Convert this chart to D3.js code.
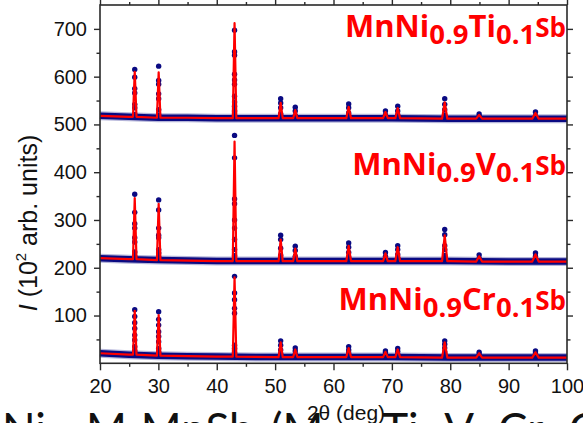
<!DOCTYPE html>
<html><head><meta charset="utf-8">
<script src="https://cdn.jsdelivr.net/npm/d3@7"></script>
<style>body{margin:0;background:#fff;} svg{display:block}</style>
</head><body>
<script>
// ---------- data ----------
const peakPos  = [25.95, 30.05, 43.05, 50.95, 53.45, 62.6, 68.9, 71.0, 79.05, 84.95, 94.6];
const peakFoot = [0.3, 0.3, 0.3, 0.35, 0.35, 0.4, 0.4, 0.4, 0.45, 0.5, 0.55];
const bgPos    = [20, 25, 30, 35, 40, 50, 60, 70, 80, 90, 100];

const tiBg = [518, 516, 514, 514, 513, 513, 513, 513, 512, 512, 512];
const vBg  = [220, 218, 216, 215, 214, 214, 214, 214, 214, 213, 213];
const crBg = [21, 18, 16, 15, 14, 13, 13, 13, 12, 12, 12];

const tiPeakBase = [516, 514, 513, 513, 513, 513, 513, 513, 512, 512, 512];
const vPeakBase  = [218, 216, 214, 214, 214, 214, 214, 214, 214, 213, 213];
const crPeakBase = [18, 16, 14, 13, 13, 13, 13, 13, 12, 12, 12];

const tiCalcTop = [610, 609, 712, 545, 530, 537, 526, 534, 546, 520, 524];
const vCalcTop  = [346, 334, 464, 259, 240, 246, 230, 243, 268, 224, 228];
const crCalcTop = [110, 101, 180, 44, 29, 32, 24, 29, 44, 21, 23];

const tiObs = [
  [615, 599, 575, 566, 542, 535, 521],
  [622, 592, 584, 564, 554, 531, 520],
  [697, 652, 645, 605, 593, 584, 559, 547, 538, 528, 519],
  [554, 545, 535, 522],
  [536, 528, 519],
  [543, 535, 524],
  [528, 520],
  [538, 528, 520],
  [554, 542, 531, 520],
  [522, 517],
  [526, 518]
];
const vObs = [
  [354, 316, 292, 283, 263, 254, 233, 224],
  [342, 321, 283, 268, 263, 238, 231, 222],
  [477, 430, 344, 334, 300, 283, 259, 238, 225],
  [268, 259, 241, 226],
  [245, 236, 224],
  [252, 243, 232, 222],
  [232, 224, 219],
  [246, 238, 228, 220],
  [280, 269, 246, 238, 226, 219],
  [227, 220],
  [231, 224, 218]
];
const crObs = [
  [112, 98, 85, 73, 59, 49, 35, 26],
  [108, 92, 80, 66, 56, 45, 31, 23],
  [182, 147, 133, 115, 105, 38, 31, 22],
  [47, 38, 28, 20],
  [32, 26, 19],
  [35, 28, 22, 18],
  [26, 22, 17],
  [31, 25, 19],
  [47, 40, 32, 24, 18],
  [23, 18],
  [26, 21, 17]
];

const yTicks = [100, 200, 300, 400, 500, 600, 700];
const yMinor = [50, 150, 250, 350, 450, 550, 650];
const xTicks = [20, 30, 40, 50, 60, 70, 80, 90, 100];
const xMinor = [25, 35, 45, 55, 65, 75, 85, 95];

const samples = [
  {bg: tiBg, base: tiPeakBase, calc: tiCalcTop, obs: tiObs, label: ["MnNi", "0.9", "Ti", "0.1", "Sb"], ly: 37},
  {bg: vBg,  base: vPeakBase,  calc: vCalcTop,  obs: vObs,  label: ["MnNi", "0.9", "V", "0.1", "Sb"],  ly: 175},
  {bg: crBg, base: crPeakBase, calc: crCalcTop, obs: crObs, label: ["MnNi", "0.9", "Cr", "0.1", "Sb"], ly: 310}
];

// ---------- layout ----------
const W = 583, H = 423;
const L = 100, R = 567, T = 5, B = 363.3;
const x = d3.scaleLinear().domain([20, 100]).range([L, R]);
const y = d3.scaleLinear().domain([0, 750]).range([B, T]);

const svg = d3.select("body").append("svg").attr("width", W).attr("height", H);
const NAVY = "#0a0a82", RED = "#ff0000";
const AX = "#2a2a2a";

const plot = svg.append("g");

samples.forEach(s => {
  const bandPts = bgPos.map((p, i) => [p, s.bg[i]]);
  const line = d3.line().x(d => x(d[0])).y(d => y(d[1]));
  plot.append("path").attr("d", line(bandPts)).attr("fill", "none")
    .attr("stroke", NAVY).attr("stroke-opacity", 0.3).attr("stroke-width", 9).attr("stroke-linejoin", "round");
  plot.append("path").attr("d", line(bandPts)).attr("fill", "none")
    .attr("stroke", NAVY).attr("stroke-width", 6.5).attr("stroke-linejoin", "round");
  s.obs.forEach((arr, i) => {
    plot.selectAll(null).data(arr).enter().append("circle")
      .attr("cx", x(peakPos[i])).attr("cy", d => y(d)).attr("r", 2.7).attr("fill", NAVY);
  });
  let pts = bgPos.map((p, i) => [p, s.bg[i]])
    .filter(d => !peakPos.some((pp, k) => Math.abs(d[0] - pp) < peakFoot[k] + 0.05));
  peakPos.forEach((pp, k) => {
    pts.push([pp - peakFoot[k], s.base[k]]);
    pts.push([pp, s.calc[k]]);
    pts.push([pp + peakFoot[k], s.base[k]]);
  });
  pts.sort((a, b) => a[0] - b[0]);
  plot.append("path").attr("d", line(pts)).attr("fill", "none")
    .attr("stroke", RED).attr("stroke-width", 2.2).attr("stroke-linejoin", "round");

  const t = svg.append("text").attr("x", 566).attr("y", s.ly).attr("text-anchor", "end")
    .attr("font-family", "'Open Sans', Lato, sans-serif").attr("font-weight", "bold").attr("fill", RED);
  t.append("tspan").attr("font-size", 31).text(s.label[0]);
  t.append("tspan").attr("font-size", 27.5).attr("dy", 7).text(s.label[1]);
  t.append("tspan").attr("font-size", 31).attr("dy", -7).text(s.label[2]);
  t.append("tspan").attr("font-size", 27.5).attr("dy", 7).text(s.label[3]);
  t.append("tspan").attr("font-size", 26).attr("dy", -7).text(s.label[4]);
});

// ---------- axes ----------
const FONT = "'Liberation Sans', Arial, sans-serif";
function styleAxis(g) {
  g.select(".domain").remove();
  g.selectAll("line").attr("stroke", AX).attr("stroke-width", 1.4);
  g.selectAll("text").attr("font-family", FONT).attr("font-size", 20).attr("fill", "#111");
}
svg.append("g").attr("transform", `translate(${L},0)`)
  .call(d3.axisLeft(y).tickValues(yTicks).tickSize(6).tickPadding(7)).call(styleAxis);
svg.append("g").attr("transform", `translate(${L},0)`)
  .call(d3.axisLeft(y).tickValues(yMinor).tickSize(3.5).tickFormat("")).call(styleAxis);
svg.append("g").attr("transform", `translate(${R},0)`)
  .call(d3.axisRight(y).tickValues(yTicks).tickSize(6).tickFormat("")).call(styleAxis);
svg.append("g").attr("transform", `translate(${R},0)`)
  .call(d3.axisRight(y).tickValues(yMinor).tickSize(3.5).tickFormat("")).call(styleAxis);
svg.append("g").attr("transform", `translate(0,${B})`)
  .call(d3.axisBottom(x).tickValues(xTicks).tickSize(7).tickPadding(8.5)).call(styleAxis);
svg.append("g").attr("transform", `translate(0,${B})`)
  .call(d3.axisBottom(x).tickValues(xMinor).tickSize(3.5).tickFormat("")).call(styleAxis);
svg.append("g").attr("transform", `translate(0,${T})`)
  .call(d3.axisTop(x).tickValues(xTicks).tickSize(5).tickFormat("")).call(styleAxis);
svg.append("g").attr("transform", `translate(0,${T})`)
  .call(d3.axisTop(x).tickValues(xMinor).tickSize(3).tickFormat("")).call(styleAxis);

svg.append("rect").attr("x", L).attr("y", T).attr("width", R - L).attr("height", B - T)
  .attr("fill", "none").attr("stroke", AX).attr("stroke-width", 1.6);

// y label
const yl = svg.append("text").attr("transform", "translate(37,223) rotate(-90)")
  .attr("text-anchor", "middle").attr("font-family", FONT).attr("font-size", 25).attr("fill", "#111");
yl.append("tspan").attr("font-style", "italic").text("I");
yl.append("tspan").text(" (10");
yl.append("tspan").attr("font-size", 15).attr("dy", -11).text("2");
yl.append("tspan").attr("dy", 11).text(" arb. units)");

// bottom caption (cut off at the picture's lower edge, as in the reference)
const cap = svg.append("text").attr("x", 2).attr("y", 445)
  .attr("font-family", "Lato, 'Open Sans', sans-serif").attr("font-size", 44)
  .attr("word-spacing", 6).attr("fill", "#111");
cap.append("tspan").text("Ni");
cap.append("tspan").attr("font-size", 28).attr("dy", 9).text("1-x");
cap.append("tspan").attr("dy", -9).text("M");
cap.append("tspan").attr("font-size", 28).attr("dy", 9).text("x");
cap.append("tspan").attr("dy", -9).text("MnSb (M = Ti, V, Cr, Co)");

// x label
svg.append("text").attr("x", 346).attr("y", 420).attr("text-anchor", "middle")
  .attr("font-family", FONT).attr("font-size", 21).attr("fill", "#111").text("2θ (deg)");
</script>
</body></html>
